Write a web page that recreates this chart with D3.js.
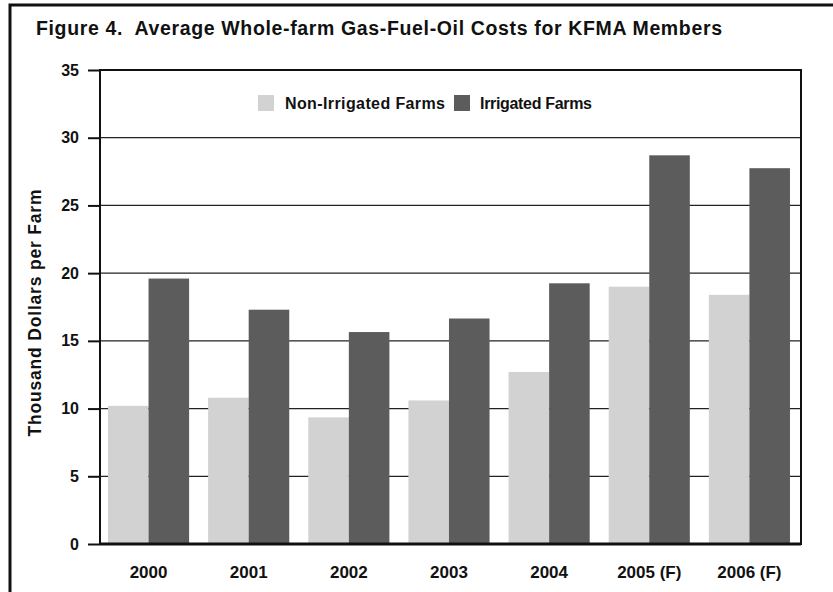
<!DOCTYPE html>
<html>
<head>
<meta charset="utf-8">
<script src="https://cdn.jsdelivr.net/npm/d3@7"></script>
<style>
  body { margin: 0; background: #fff; }
  svg text { font-family: "Liberation Sans", Arial, sans-serif; font-weight: bold; fill: #111; white-space: pre; }
</style>
</head>
<body>
<svg id="chart" width="833" height="592"></svg>
<script>
// chart data
const years = ['2000', '2001', '2002', '2003', '2004', '2005 (F)', '2006 (F)'];
const seriesNames = ['Non-Irrigated Farms', 'Irrigated Farms'];
const nonIrrigated = [10.2, 10.8, 9.35, 10.6, 12.7, 19.0, 18.4];
const irrigated = [19.6, 17.3, 15.65, 16.65, 19.25, 28.7, 27.75];
const yTicks = [0, 5, 10, 15, 20, 25, 30, 35];

const colors = ['#d2d2d2', '#5c5c5c'];

let svg = d3.select('#chart');
let margin = {top: 70, right: 32, bottom: 48, left: 100},
    width = 833 - margin.left - margin.right,
    height = 592 - margin.top - margin.bottom;

// outer frame (cropped at right and bottom)
svg.append('path')
    .attr('d', 'M10,600 L10,5 L840,5')
    .attr('fill', 'none')
    .attr('stroke', '#111')
    .attr('stroke-width', 3);

svg.append('text')
    .attr('x', 36)
    .attr('y', 35)
    .attr('font-size', 19.5)
    .attr('textLength', 686)
    .attr('lengthAdjust', 'spacing')
    .text('Figure 4.  Average Whole-farm Gas-Fuel-Oil Costs for KFMA Members');

let g = svg.append('g').attr('transform', 'translate(' + margin.left + ',' + margin.top + ')');

let x0 = d3.scaleBand()
    .domain(years)
    .range([0, width])
    .paddingInner(0.19)
    .paddingOuter(0.095)
    .align(0.42);

let x1 = d3.scaleBand()
    .domain(seriesNames)
    .range([0, x0.bandwidth()]);

let y = d3.scaleLinear()
    .domain([0, 35])
    .range([height, 0]);

// gridlines
g.selectAll('.grid')
    .data(yTicks.filter(t => t > 0 && t < 35))
    .enter().append('line')
    .attr('x1', 0)
    .attr('x2', width)
    .attr('y1', d => y(d))
    .attr('y2', d => y(d))
    .attr('stroke', '#222')
    .attr('stroke-width', 1.2);

// bars
let rows = years.map((yr, i) => ({year: yr, values: [nonIrrigated[i], irrigated[i]]}));
let groups = g.selectAll('.grp')
    .data(rows)
    .enter().append('g')
    .attr('transform', d => 'translate(' + x0(d.year) + ',0)');

groups.selectAll('rect')
    .data(d => d.values.map((v, k) => ({name: seriesNames[k], value: v, k: k})))
    .enter().append('rect')
    .attr('x', d => x1(d.name))
    .attr('width', x1.bandwidth())
    .attr('y', d => y(d.value))
    .attr('height', d => height - y(d.value))
    .attr('fill', d => colors[d.k]);

// plot frame
g.append('rect')
    .attr('x', 0)
    .attr('y', 0)
    .attr('width', width)
    .attr('height', height)
    .attr('fill', 'none')
    .attr('stroke', '#111')
    .attr('stroke-width', 2);

g.append('line')
    .attr('x1', 0).attr('x2', width)
    .attr('y1', height).attr('y2', height)
    .attr('stroke', '#111')
    .attr('stroke-width', 3);

// y axis
let yAxis = g.append('g')
    .call(d3.axisLeft(y).tickValues(yTicks).tickSize(12).tickPadding(9));
yAxis.select('.domain').remove();
yAxis.selectAll('line').attr('stroke', '#111').attr('stroke-width', 2);
yAxis.selectAll('text')
    .attr('font-size', 16)
    .attr('font-family', '"Liberation Sans", Arial, sans-serif')
    .attr('font-weight', 'bold')
    .attr('fill', '#111');

// x axis labels
let xAxis = g.append('g')
    .attr('transform', 'translate(0,' + height + ')')
    .call(d3.axisBottom(x0).tickSize(0).tickPadding(22));
xAxis.select('.domain').remove();
xAxis.selectAll('text')
    .attr('font-size', 17)
    .attr('font-family', '"Liberation Sans", Arial, sans-serif')
    .attr('font-weight', 'bold')
    .attr('fill', '#111');

// y title
svg.append('text')
    .attr('transform', 'translate(41,313) rotate(-90)')
    .attr('text-anchor', 'middle')
    .attr('font-size', 17.5)
    .attr('textLength', 247)
    .attr('lengthAdjust', 'spacing')
    .text('Thousand Dollars per Farm');

// legend
let legendX = [258, 454];
let legendW = [160, 112];
let legend = svg.selectAll('.legend')
    .data(seriesNames)
    .enter().append('g')
    .attr('transform', (d, i) => 'translate(' + legendX[i] + ',95)');

legend.append('rect')
    .attr('width', 16)
    .attr('height', 16)
    .attr('fill', (d, i) => colors[i]);

legend.append('text')
    .attr('x', (d, i) => i === 0 ? 27 : 26)
    .attr('y', 14)
    .attr('font-size', 16)
    .attr('textLength', (d, i) => legendW[i])
    .attr('lengthAdjust', 'spacing')
    .text(d => d);
</script>
</body>
</html>
